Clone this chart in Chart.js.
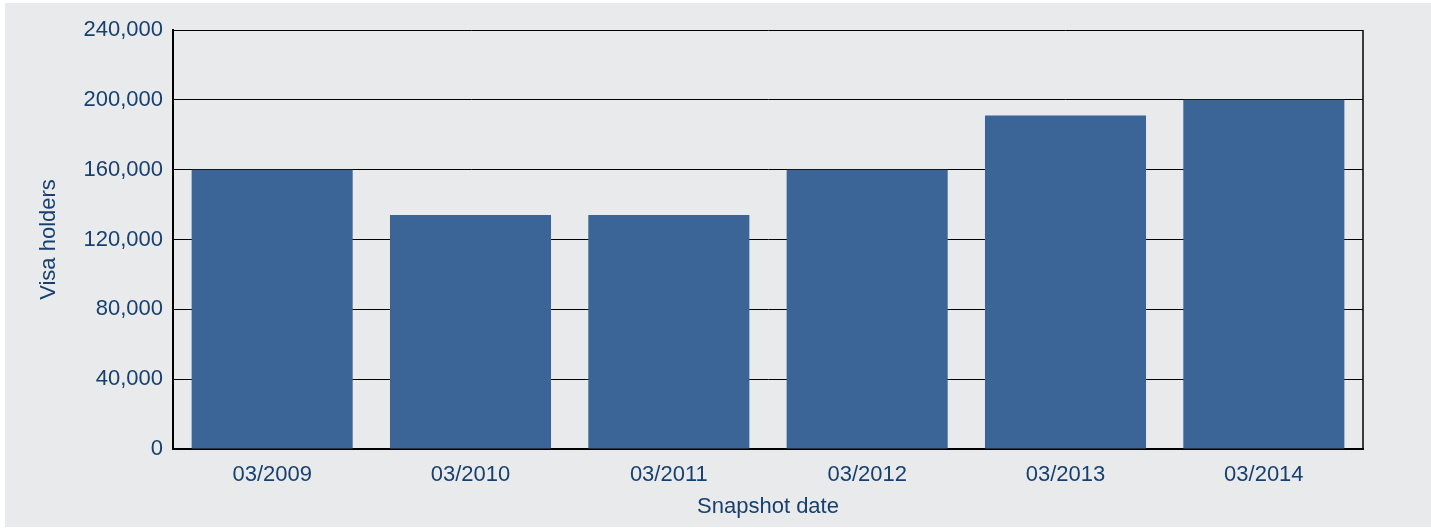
<!doctype html>
<html lang="en">
<head>
    <meta charset="utf-8">
    <title>Visa holders by snapshot date</title>
    <script src="https://cdn.jsdelivr.net/npm/chart.js"></script>
    <style>
        html, body { margin: 0; padding: 0; background: #ffffff; }
        .panel {
            position: absolute; left: 5px; top: 3px;
            width: 1426px; height: 524px;
            background: #e9eaec;
        }
    </style>
</head>
<body>
    <div class="panel">
        <canvas id="visaChart" width="1426" height="524"></canvas>
    </div>
    <script>
        const snapshotDates = ['03/2009', '03/2010', '03/2011', '03/2012', '03/2013', '03/2014'];
        const visaHolders = [160000, 134000, 134000, 160000, 191000, 200000];
        const yTickMax = 240000;
        const yTickStep = 40000;

        const textColor = '#17406f';
        const barColor = '#3a6596';
        const labelFont = { family: 'Liberation Sans', size: 22 };

        // draws the right-hand edge of the plot frame
        const frame = {
            id: 'frame',
            afterDraw(chart) {
                const { ctx, chartArea } = chart;
                ctx.save();
                ctx.strokeStyle = '#000';
                ctx.lineWidth = 1.5;
                ctx.beginPath();
                ctx.moveTo(chartArea.right, chartArea.top);
                ctx.lineTo(chartArea.right, chartArea.bottom);
                ctx.stroke();
                ctx.restore();
            }
        };

        new Chart(document.getElementById('visaChart'), {
            type: 'bar',
            data: {
                labels: snapshotDates,
                datasets: [{
                    label: 'Visa holders',
                    data: visaHolders,
                    backgroundColor: barColor,
                    barPercentage: 0.812,
                    categoryPercentage: 1
                }]
            },
            options: {
                responsive: false,
                animation: false,
                layout: { padding: { left: 31, top: 27, right: 68, bottom: 7 } },
                plugins: {
                    legend: { display: false },
                    tooltip: { enabled: false }
                },
                scales: {
                    x: {
                        grid: { display: false, drawTicks: false },
                        border: { color: '#000', width: 2 },
                        ticks: {
                            color: textColor,
                            padding: 13,
                            font: labelFont
                        },
                        title: {
                            display: true,
                            text: 'Snapshot date',
                            color: textColor,
                            padding: { top: 0, bottom: 0 },
                            font: labelFont
                        },
                        afterFit(scale) { scale.height = 71; }
                    },
                    y: {
                        min: 0,
                        max: yTickMax,
                        grid: { color: '#000', lineWidth: 1, drawTicks: false },
                        border: { color: '#000', width: 2 },
                        ticks: {
                            stepSize: yTickStep,
                            color: textColor,
                            padding: 10,
                            font: labelFont
                        },
                        title: {
                            display: true,
                            text: 'Visa holders',
                            color: textColor,
                            padding: { top: 0, bottom: 0 },
                            font: labelFont
                        },
                        afterFit(scale) { scale.width = 137; }
                    }
                }
            },
            plugins: [frame]
        });
    </script>
</body>
</html>
